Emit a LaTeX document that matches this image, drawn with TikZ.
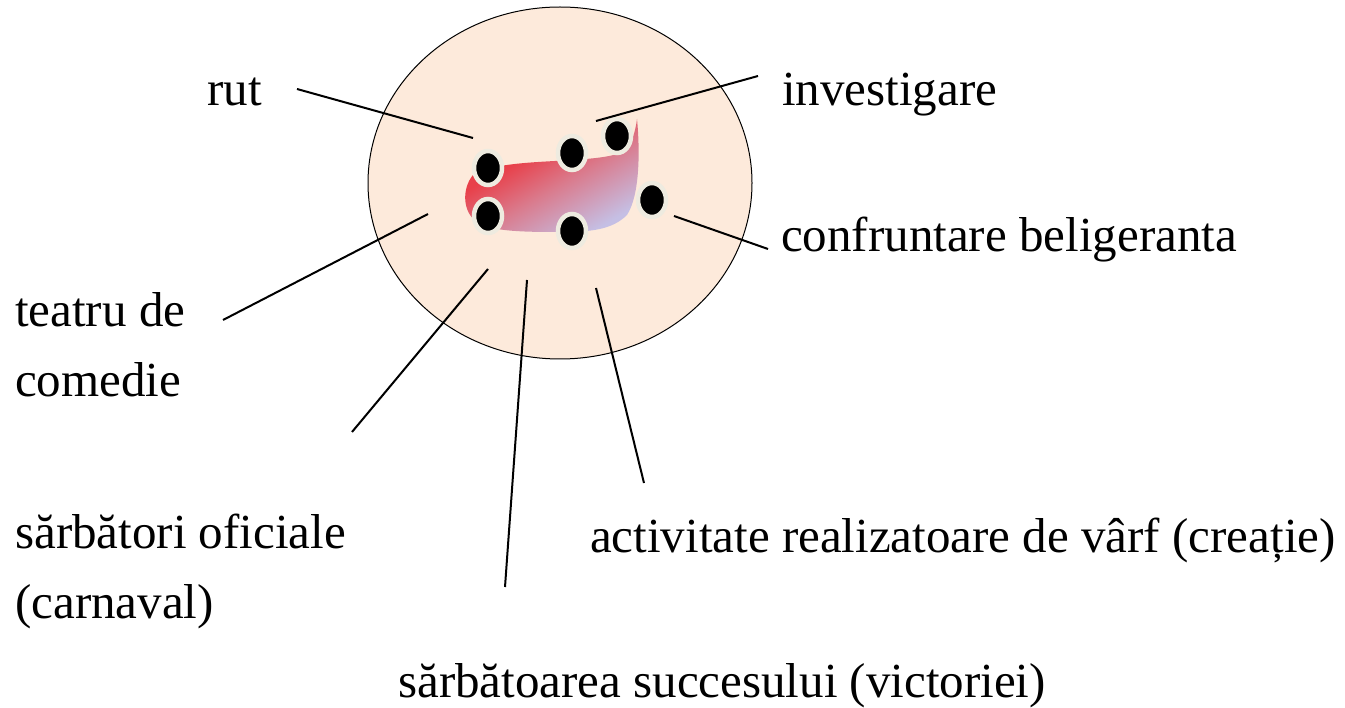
\documentclass[tikz,border=0pt]{standalone}
\usepackage{fontspec}
\setmainfont{Liberation Serif}
\usetikzlibrary{shapes.geometric}
\definecolor{peach}{RGB}{253, 234, 219}
\definecolor{zonered}{RGB}{232, 64, 74}
\definecolor{zonemid}{RGB}{218, 122, 140}
\definecolor{zonelilac}{RGB}{197, 191, 228}
\definecolor{dotrim}{RGB}{238, 235, 224}
\pgfdeclarehorizontalshading{zone}{100bp}{color(0bp)=(zonelilac); color(32bp)=(zonelilac); color(47bp)=(zonemid); color(58bp)=(zonered); color(100bp)=(zonered)}
\tikzset{
  label text/.style={anchor=base west, inner sep=0pt, font=\fontsize{49}{70}\selectfont},
  lead/.style={line width=2pt},
  spot/.style={ellipse, fill=black, draw=dotrim, line width=4.5pt, minimum width=28pt, minimum height=34pt, inner sep=0pt}
}
\begin{document}
\begin{tikzpicture}[x=1pt, y=-1pt]
            \useasboundingbox (0,0) rectangle (1345,708);

            % Draw the disc
            \node[ellipse, draw, line width=1pt, fill=peach, minimum width=384pt, minimum height=352pt, inner sep=0pt] (disc) at (560,183) {};

            % Draw the shaded zone
            \begin{scope}
              \clip (473,175) .. controls (490,163) and (540,162) .. (573,160)
                .. controls (600,158) and (625,156) .. (630,145)
                .. controls (633,138) and (636,128) .. (637,119)
                .. controls (640,150) and (640,195) .. (627,215)
                .. controls (612,230) and (590,232) .. (560,232)
                .. controls (530,232) and (490,232) .. (477,222)
                .. controls (462,212) and (462,188) .. (473,175) -- cycle;
              \shade[shading=zone, shading angle=120] (457,81) rectangle (647,271);
            \end{scope}

            % Draw the spots
            \node[spot] (s1) at (488,168) {};
            \node[spot] (s2) at (488,216) {};
            \node[spot] (s3) at (572,153) {};
            \node[spot] (s4) at (617,136) {};
            \node[spot] (s5) at (652,200) {};
            \node[spot] (s6) at (572,231) {};

            % Place the labels
            \node[label text] (rut) at (207,106) {rut};
            \node[label text] (invest) at (782,106) {investigare};
            \node[label text] (confr) at (781,252) {confruntare beligeranta};
            \node[label text, align=left] (teatru) at (15,397) {teatru de\\comedie};
            \node[label text, align=left] (oficial) at (15,618) {sărbători oficiale\\(carnaval)};
            \node[label text] (creatie) at (590,552) {activitate realizatoare de vârf (creație)};
            \node[label text] (succes) at (398,697) {sărbătoarea succesului (victoriei)};

            % Leader lines
            \coordinate (rut-a) at (297,89);    \coordinate (rut-b) at (473,138);
            \coordinate (inv-a) at (758,76);    \coordinate (inv-b) at (596,121);
            \coordinate (con-a) at (768,249);   \coordinate (con-b) at (674,216);
            \coordinate (tea-a) at (223,320);   \coordinate (tea-b) at (428,214);
            \coordinate (ofi-a) at (352,432);   \coordinate (ofi-b) at (488,269);
            \coordinate (suc-a) at (505,587);   \coordinate (suc-b) at (527,280);
            \coordinate (cre-a) at (644,483);   \coordinate (cre-b) at (596,288);
            \foreach \p in {rut, inv, con, tea, ofi, suc, cre}
              \draw[lead] (\p-a) -- (\p-b);
        \end{tikzpicture}
\end{document}
